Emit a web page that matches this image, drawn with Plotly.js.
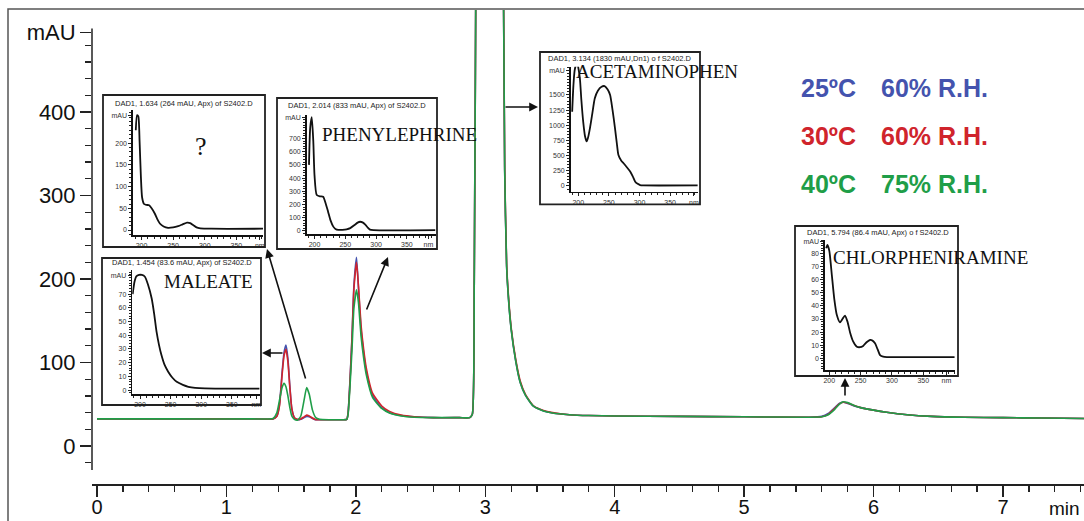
<!DOCTYPE html>
<html>
<head>
<meta charset="utf-8">
<script src="https://cdn.plot.ly/plotly-3.0.1.min.js"></script>
<style>html,body{margin:0;padding:0;background:#fff;}#chart{width:1084px;height:521px;}</style>
</head>
<body>
<div id="chart"></div>
<script>
// ---------- main chromatogram (retention time, min) ----------
const time = [0, 0.6, 1.2, 1.36, 1.39, 1.41, 1.43, 1.445, 1.46, 1.475, 1.49, 1.505, 1.525, 1.55, 1.575, 1.6, 1.62, 1.64, 1.665, 1.69, 1.72, 1.8, 1.9, 1.93, 1.94, 1.955, 1.97, 1.985, 2.005, 2.02, 2.04, 2.06, 2.08, 2.13, 2.2, 2.26, 2.35, 2.45, 2.6, 2.8, 2.88, 2.9, 2.915, 2.93, 2.96, 3.03, 3.1, 3.135, 3.15, 3.165, 3.18, 3.2, 3.235, 3.27, 3.31, 3.37, 3.45, 3.52, 3.65, 3.8, 4.0, 4.5, 5.0, 5.5, 5.6, 5.65, 5.7, 5.735, 5.765, 5.8, 5.85, 5.9, 6.0, 6.1, 6.26, 6.45, 6.7, 7.0, 7.3, 7.63];
const mAU_25C = [32.5, 32.5, 32.5, 32.5, 36, 50, 88, 112, 121, 105, 72, 45, 34, 31.5, 32, 34, 35.5, 35, 33, 31.5, 31.5, 31.5, 31.5, 32, 40, 80, 130, 192, 226, 190, 140, 112, 90, 60, 46, 40, 36.5, 35, 34, 34, 34, 38, 200, 650, 1300, 1830, 1400, 700, 330, 215, 175, 140, 102, 76, 61, 48, 42, 39.5, 37.5, 36.5, 36, 35.5, 35, 34.5, 35.5, 39, 46, 51, 52.5, 51, 48, 46, 43, 40.5, 37.5, 35.5, 34.5, 34, 33.5, 33];
const mAU_30C = [32.5, 32.5, 32.5, 32.5, 35.5, 48, 85, 108, 116, 101, 70, 45, 34, 32, 32.5, 35, 37, 36, 33.5, 31.5, 31.5, 31.5, 31.5, 32, 39, 78, 128, 188, 220, 192, 145, 116, 94, 63, 48, 41.5, 37, 35, 34, 34, 34, 38, 200, 650, 1300, 1830, 1400, 700, 335, 218, 178, 142, 104, 78, 62, 48.5, 42.5, 40, 37.5, 36.5, 36, 35.5, 35, 34.5, 35, 38, 45, 50.5, 52.5, 51.5, 48.5, 46, 43, 40.5, 37.5, 35.5, 34.5, 34, 33.5, 33];
const mAU_40C = [32.5, 32.5, 32.5, 33, 40, 55, 70, 75, 71, 60, 46, 36, 32, 31, 36, 55, 70, 62, 43, 34, 32, 31.5, 31.5, 32, 38, 72, 115, 165, 187, 172, 132, 106, 86, 58, 45, 39.5, 36, 34.5, 34, 34, 34, 38, 200, 650, 1300, 1830, 1400, 700, 330, 215, 175, 140, 102, 76, 61, 48, 42, 39.5, 37.5, 36.5, 36, 35.5, 35, 34.5, 35, 37.5, 44, 50, 53, 52, 48.5, 46, 43, 40.5, 37.5, 35.5, 34.5, 34, 33.5, 33];
const seriesNames = ['25ºC 60% R.H.', '30ºC 60% R.H.', '40ºC 75% R.H.'];
const seriesColors = ['#4453AE', '#D0242C', '#1F9E48'];
const timeTicks = [0, 1, 2, 3, 4, 5, 6, 7];
const mAUTicks = [0, 100, 200, 300, 400, 495];
const mAUTickText = ['0', '100', '200', '300', '400', 'mAU'];

// ---------- UV spectra insets (wavelength nm, mAU) ----------
const nmUnknown = [191, 193, 195, 197, 199, 201, 204, 208, 212, 216, 221, 225, 229, 235, 242, 250, 258, 265, 272, 277, 282, 287, 293, 310, 392];
const specUnknown = [230, 265, 262, 205, 125, 75, 60, 58, 57, 50, 38, 25, 15, 8, 5, 6, 9, 13, 17, 16, 11, 6, 4, 3, 3];
const nmPhenyl = [191, 193, 195.5, 198, 200, 203.6, 209, 214, 218, 222, 226, 230.5, 234, 238.6, 245, 252, 258, 265, 270, 274, 278, 282, 286, 290, 296, 396];
const specPhenyl = [500, 780, 860, 680, 420, 272, 262, 259, 210, 146, 80, 33, 15, 8, 9, 13, 22, 45, 63, 70, 65, 50, 28, 10, 6, 6];
const nmMaleate = [188, 191, 194, 198.4, 203, 208, 213, 219, 223, 227, 231, 235, 240, 246, 253, 260, 270, 279, 290, 306, 395];
const specMaleate = [70, 79, 83, 84, 84, 82.7, 77, 67, 56, 42.6, 33, 25.5, 18.5, 13.4, 9, 6, 3.8, 2.4, 1.6, 1.2, 1];
const nmAcet = [190, 192, 194, 197.7, 200, 202.6, 205, 208, 211, 213.7, 216, 219, 223, 227, 232, 238, 243, 248, 252, 256, 260, 263, 265.6, 270, 274, 280, 285, 289, 293, 297, 301, 306, 395];
const specAcet = [1224, 1650, 1900, 2050, 1950, 1775, 1420, 1060, 820, 735, 800, 950, 1200, 1445, 1570, 1636, 1645, 1590, 1500, 1250, 950, 700, 510, 420, 374, 300, 236, 160, 71, 35, 16, 10, 10];
const nmChlor = [195, 197, 200, 204, 208, 212, 217, 221, 225, 229, 233, 238, 244, 249, 254, 260, 265, 269, 273, 277, 281, 286, 292, 310, 400];
const specChlor = [84, 86.5, 82, 63.6, 45, 33, 27.5, 30, 32.5, 28, 20, 13, 8.9, 8.5, 9.5, 12.5, 14, 13.5, 11.5, 7, 2.5, 1.3, 1, 1, 1];

const insetTitles = [
  'DAD1, 1.634 (264 mAU, Apx) of S2402.D',
  'DAD1, 2.014 (833 mAU, Apx) of S2402.D',
  'DAD1, 1.454 (83.6 mAU, Apx) of S2402.D',
  'DAD1, 3.134 (1830 mAU,Dn1) o f S2402.D',
  'DAD1, 5.794 (86.4 mAU, Apx) o f S2402.D'
];
const compoundNames = ['?', 'PHENYLEPHRINE', 'MALEATE', 'ACETAMINOPHEN', 'CHLORPHENIRAMINE'];

// ---------- geometry helpers (pixel -> paper) ----------
const W = 1084, H = 521, ML = 92, MR = 0, MT = 10, MB = 37;
const PW = W - ML - MR, PH = H - MT - MB;
const px = v => (v - ML) / PW;
const py = v => (H - MB - v) / PH;

const traces = [];
[mAU_25C, mAU_30C, mAU_40C].forEach((ys, i) => {
  traces.push({x: time, y: ys, type: 'scatter', mode: 'lines', name: seriesNames[i],
    line: {color: seriesColors[i], width: 1.6, shape: 'spline', smoothing: 0.5},
    xaxis: 'x', yaxis: 'y', hoverinfo: 'skip'});
});

const spectra = [
  {nm: nmUnknown, v: specUnknown, box: [103, 95, 265, 247], plot: [133, 110, 263, 235], xr: [186.6, 392], yr: [-11.5, 276.8], yt: [0, 50, 100, 150, 200, 265], nmAt: 387, ymin: 10, title: [184, 103], name: [201, 146], nameSize: 26, nameAnchor: 'center'},
  {nm: nmPhenyl, v: specPhenyl, box: [277, 98, 437, 249], plot: [306.7, 115, 436, 234.3], xr: [187.3, 397.2], yr: [-25, 877], yt: [0, 100, 200, 300, 400, 500, 600, 700, 856], nmAt: 385, ymin: 20, title: [357, 105], name: [320, 134], nameSize: 19, nameAnchor: 'left'},
  {nm: nmMaleate, v: specMaleate, box: [102, 258, 261, 405], plot: [132.3, 270, 260, 394.3], xr: [187.4, 396], yr: [-3.1, 87.6], yt: [0, 10, 20, 30, 40, 50, 60, 70, 83.4], nmAt: 390, ymin: 2, title: [182, 262], name: [162, 281], nameSize: 19, nameAnchor: 'left'},
  {nm: nmAcet, v: specAcet, box: [540, 52, 700, 204.3], plot: [570.7, 66.7, 698, 191.7], xr: [187.6, 395.6], yr: [-94, 1965], yt: [0, 250, 500, 750, 1000, 1250, 1500, 1900], nmAt: 389, ymin: 50, title: [620, 58.5], name: [574, 72], nameSize: 19, nameAnchor: 'left'},
  {nm: nmChlor, v: specChlor, box: [795, 226, 958, 376], plot: [825, 240, 955, 370], xr: [193.1, 400.7], yr: [-8.9, 90.3], yt: [0, 10, 20, 30, 40, 50, 60, 70, 80, 88.8], nmAt: 387, ymin: 2, title: [878, 232], name: [831, 257], nameSize: 19, nameAnchor: 'left'}
];

const layout = {
  width: W, height: H,
  margin: {l: ML, r: MR, t: MT, b: MB, pad: 0},
  paper_bgcolor: '#ffffff', plot_bgcolor: 'rgba(0,0,0,0)',
  showlegend: false,
  font: {family: 'Liberation Sans, Arial, sans-serif', color: '#111'},
  xaxis: {
    domain: [0, 1], anchor: 'free', position: 0,
    range: [-0.0386, 7.626], tickmode: 'array', tickvals: timeTicks,
    ticks: 'outside', ticklen: 11, tickwidth: 1.5, tickcolor: '#222',
    ticklabelstandoff: -7,
    showline: true, linecolor: '#222', linewidth: 1.5,
    showgrid: false, zeroline: false, fixedrange: true,
    tickfont: {family: 'Liberation Sans Narrow, Liberation Sans, Arial', size: 20, color: '#111'},
    minor: {dtick: 0.2, tick0: 0, ticks: 'outside', ticklen: 6, tickwidth: 1.3, tickcolor: '#222', showgrid: false}
  },
  yaxis: {
    domain: [py(470), 1], anchor: 'x',
    range: [-28.7, 522.2], tickmode: 'array', tickvals: mAUTicks, ticktext: mAUTickText,
    ticks: 'outside', ticklen: 11, tickwidth: 1.5, tickcolor: '#222',
    showline: false, showgrid: false, zeroline: false, fixedrange: true,
    tickfont: {family: 'Liberation Sans, Arial', size: 22, color: '#111'},
    minor: {tickmode: 'array', tickvals: [], ticks: 'outside', ticklen: 6, tickwidth: 1.3, tickcolor: '#222', showgrid: false}
  },
  shapes: [
    {type: 'rect', xref: 'paper', yref: 'paper', x0: px(8), x1: px(1100), y0: py(535), y1: py(9), line: {color: '#555', width: 1.5}, fillcolor: 'rgba(0,0,0,0)'},
    {type: 'line', xref: 'paper', yref: 'y', x0: 0, x1: 0, y0: -28.7, y1: 500, line: {color: '#222', width: 1.5}}
  ],
  annotations: []
};
for (let v = -20; v <= 500; v += 20) { if (v % 100 !== 0) layout.yaxis.minor.tickvals.push(v); }

spectra.forEach((s, i) => {
  const n = i + 2;
  const xa = 'xaxis' + n, ya = 'yaxis' + n;
  traces.push({x: s.nm, y: s.v, type: 'scatter', mode: 'lines',
    line: {color: '#111', width: 1.8, shape: 'spline', smoothing: 0.6},
    xaxis: 'x' + n, yaxis: 'y' + n, hoverinfo: 'skip'});
  const ytt = s.yt.map((v, k) => k === s.yt.length - 1 ? 'mAU' : String(v));
  layout[xa] = {
    domain: [px(s.plot[0]), px(s.plot[2])], anchor: 'y' + n, range: s.xr,
    tickmode: 'array', tickvals: [200, 250, 300, 350, s.nmAt], ticktext: ['200', '250', '300', '350', 'nm'],
    ticks: 'outside', ticklen: 3, tickwidth: 1, tickcolor: '#222',
    showline: true, linecolor: '#111', linewidth: 1.6, showgrid: false, zeroline: false, fixedrange: true,
    tickfont: {family: 'Liberation Sans, Arial', size: 7, color: '#333'},
    minor: {dtick: 10, tick0: 0, ticks: 'outside', ticklen: 2, tickwidth: 1, tickcolor: '#222', showgrid: false}
  };
  layout[ya] = {
    domain: [py(s.plot[3]), py(s.plot[1])], anchor: 'x' + n, range: s.yr,
    tickmode: 'array', tickvals: s.yt, ticktext: ytt,
    ticks: 'outside', ticklen: 3, tickwidth: 1, tickcolor: '#222',
    showline: true, linecolor: '#111', linewidth: 1.6, showgrid: false, zeroline: false, fixedrange: true,
    tickfont: {family: 'Liberation Sans, Arial', size: 7, color: '#333'},
    minor: {dtick: s.ymin, tick0: 0, ticks: 'outside', ticklen: 2, tickwidth: 1, tickcolor: '#222', showgrid: false}
  };
  layout.shapes.push({type: 'rect', xref: 'paper', yref: 'paper',
    x0: px(s.box[0]), x1: px(s.box[2]), y0: py(s.box[3]), y1: py(s.box[1]),
    line: {color: '#222', width: 1.8}, fillcolor: 'rgba(0,0,0,0)'});
  layout.annotations.push({xref: 'paper', yref: 'paper', x: px(s.title[0]), y: py(s.title[1]),
    text: insetTitles[i], showarrow: false, xanchor: 'center', yanchor: 'middle',
    font: {family: 'Liberation Sans, Arial', size: 7.5, color: '#222'}});
  layout.annotations.push({xref: 'paper', yref: 'paper', x: px(s.name[0]), y: py(s.name[1]),
    text: compoundNames[i], showarrow: false, xanchor: s.nameAnchor, yanchor: 'middle',
    font: {family: 'Liberation Serif, Times New Roman, serif', size: s.nameSize, color: '#111'}});
});

// arrows from peaks to their spectra
const arrows = [
  {head: [262, 353], tail: [284, 353]},
  {head: [267, 249], tail: [306, 380]},
  {head: [388, 257], tail: [366, 311]},
  {head: [538, 107], tail: [504, 107]},
  {head: [845, 378], tail: [845, 397]}
];
arrows.forEach(a => {
  layout.annotations.push({xref: 'paper', yref: 'paper', x: px(a.head[0]), y: py(a.head[1]),
    ax: a.tail[0] - a.head[0], ay: a.tail[1] - a.head[1], axref: 'pixel', ayref: 'pixel',
    text: '', showarrow: true, arrowhead: 2, arrowsize: 1.1, arrowwidth: 1.6, arrowcolor: '#111'});
});

// condition labels
const legendRows = [['25ºC', '60% R.H.', 88], ['30ºC', '60% R.H.', 136], ['40ºC', '75% R.H.', 184]];
legendRows.forEach((r, i) => {
  layout.annotations.push({xref: 'paper', yref: 'paper', x: px(799), y: py(r[2]), text: '<b>' + r[0] + '</b>',
    showarrow: false, xanchor: 'left', yanchor: 'middle', font: {family: 'Liberation Sans, Arial', size: 25, color: seriesColors[i]}});
  layout.annotations.push({xref: 'paper', yref: 'paper', x: px(879), y: py(r[2]), text: '<b>' + r[1] + '</b>',
    showarrow: false, xanchor: 'left', yanchor: 'middle', font: {family: 'Liberation Sans, Arial', size: 25, color: seriesColors[i]}});
});

layout.annotations.push({xref: 'paper', yref: 'paper', x: px(1082), y: py(508), text: 'min',
  showarrow: false, xanchor: 'right', yanchor: 'middle',
  font: {family: 'Liberation Sans Narrow, Liberation Sans, Arial', size: 19, color: '#111'}});

Plotly.newPlot('chart', traces, layout, {staticPlot: true, displayModeBar: false});
</script>
</body>
</html>
